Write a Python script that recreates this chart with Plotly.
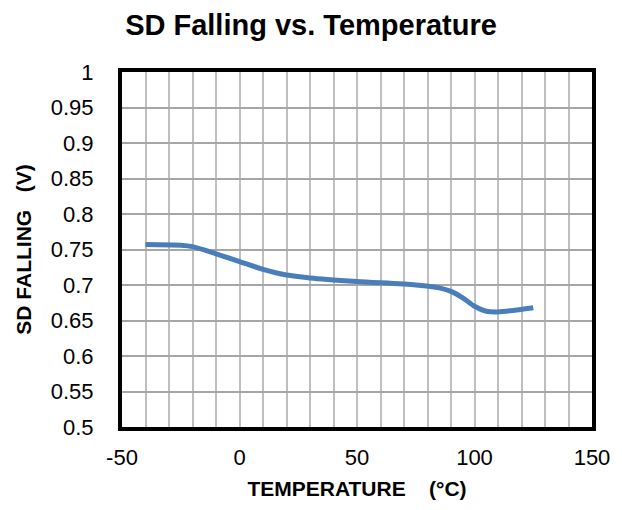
import plotly.graph_objects as go

temperature = [-40, -25, -20, -10, 0, 10, 20, 30, 50, 75, 85, 90, 95, 100, 105, 110, 125]
sd_falling = [0.757, 0.756, 0.754, 0.744, 0.733, 0.722, 0.714, 0.710, 0.705, 0.700, 0.696, 0.691, 0.682, 0.670, 0.663, 0.662, 0.668]

x_ticks = [-50, 0, 50, 100, 150]
y_ticks = [0.5, 0.55, 0.6, 0.65, 0.7, 0.75, 0.8, 0.85, 0.9, 0.95, 1]
y_labels = ["0.5", "0.55", "0.6", "0.65", "0.7", "0.75", "0.8", "0.85", "0.9", "0.95", "1"]

font = "Liberation Sans, Arial, sans-serif"
NB = "\u00a0"

fig = go.Figure()
fig.add_trace(go.Scatter(
    x=temperature, y=sd_falling, mode="lines",
    line=dict(color="#4a7ebb", width=5, shape="spline", smoothing=0.8),
    showlegend=False, hoverinfo="skip",
))

fig.update_layout(
    width=622, height=510,
    margin=dict(l=122, r=26, t=72, b=80),
    paper_bgcolor="white", plot_bgcolor="white",
    title=dict(text="<b>SD Falling vs. Temperature</b>", x=0.5, xanchor="center",
               y=1 - 25 / 510, yanchor="middle", font=dict(family=font, size=29, color="black")),
    font=dict(family=font, color="black"),
)

fig.update_xaxes(
    range=[-50, 150], tickmode="array", tickvals=x_ticks, ticktext=[str(v) for v in x_ticks],
    tickfont=dict(size=22, family=font, color="black"),
    showgrid=True, gridcolor="#bfbfbf", gridwidth=1.5,
    minor=dict(dtick=10, tick0=-50, showgrid=True, gridcolor="#bfbfbf", gridwidth=1.5),
    showline=True, linecolor="black", linewidth=4, mirror=True,
    zeroline=False, ticks="", ticklabelstandoff=8,
    title=dict(text="<b>TEMPERATURE" + NB * 4 + "(°C)</b>", font=dict(size=21, family=font, color="black"), standoff=13),
)
fig.update_yaxes(
    range=[0.5, 1], tickmode="array", tickvals=y_ticks, ticktext=y_labels,
    tickfont=dict(size=22, family=font, color="black"),
    showgrid=True, gridcolor="#a6a6a6", gridwidth=1.5,
    showline=True, linecolor="black", linewidth=4, mirror=True,
    zeroline=False, ticks="", ticklabelstandoff=20,
    title=dict(text="<b>SD FALLING" + NB * 3 + "(V)</b>", font=dict(size=21, family=font, color="black"), standoff=14),
)

fig.write_html("out.html", config={"displayModeBar": False},
               post_script="document.body.style.margin='0px';")
